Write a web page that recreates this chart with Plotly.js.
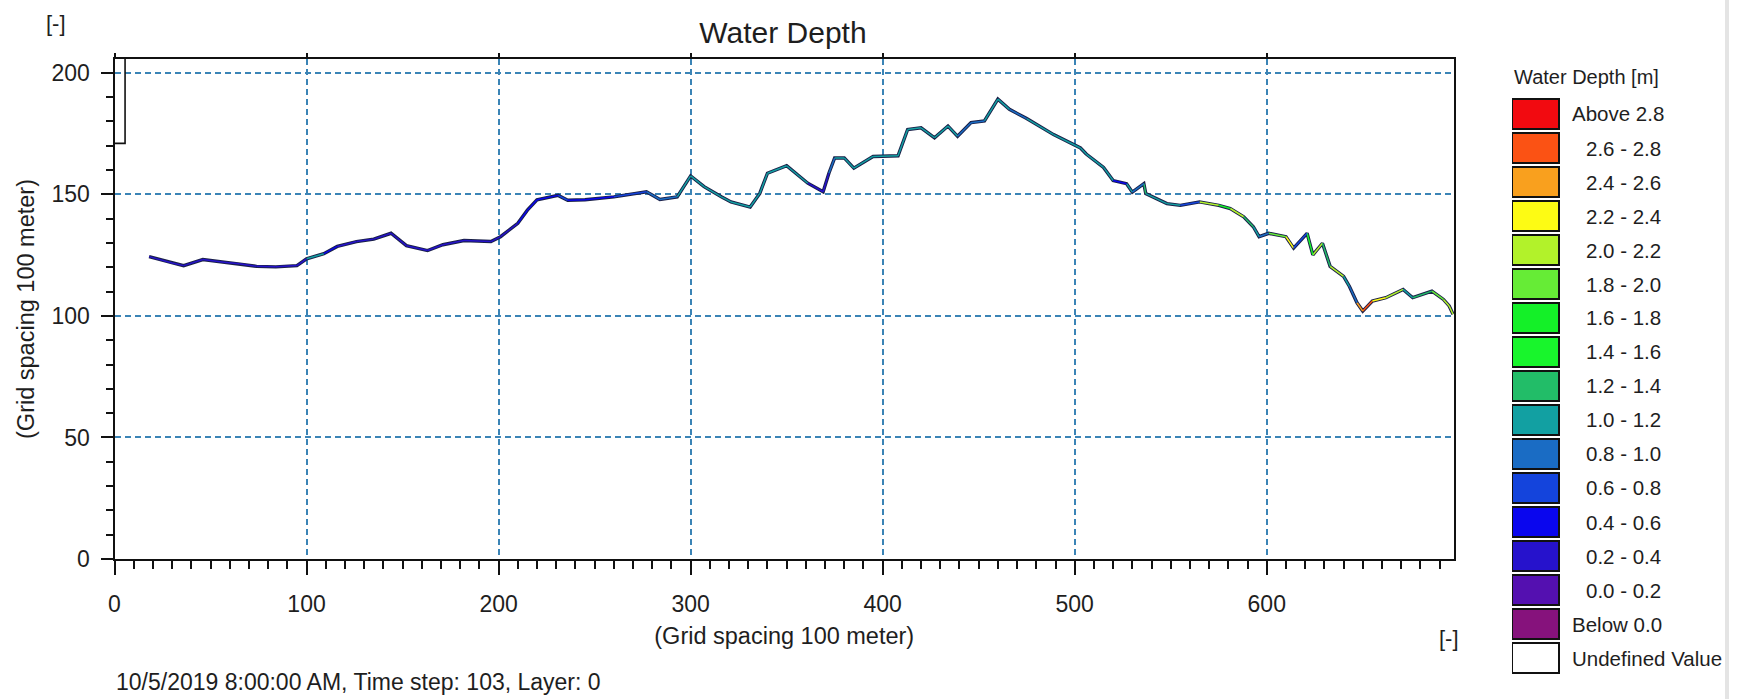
<!DOCTYPE html>
<html>
<head>
<meta charset="utf-8">
<script src="https://cdn.plot.ly/plotly-3.0.1.min.js"></script>
<style>html,body{margin:0;padding:0;background:#fff;}#chart{width:1740px;height:699px;}</style>
</head>
<body>
<div id="chart"></div>
<script>
// ---- data ----
var profileX = [18, 30, 36, 46, 57, 65, 74, 84, 95, 100, 109, 116, 126, 135, 144, 152, 163, 171, 182, 196, 201, 210, 215, 220, 231, 236, 245, 260, 277, 284, 293, 300, 307, 316, 321, 331, 336, 340, 350, 361, 369, 372, 375, 380, 385, 395, 408, 413, 420, 427, 434, 439, 446, 453, 460, 466, 475, 489, 503, 506, 515, 520, 527, 530, 536, 537, 548, 555, 565, 575, 581, 588, 593, 596, 601, 610, 614, 621, 624, 629, 633, 640, 643, 647, 650, 655, 662, 671, 676, 686, 692, 695, 697];
var profileY = [124.4, 121.8, 120.7, 123.2, 122.1, 121.5, 120.4, 120.2, 120.7, 123.5, 125.6, 128.6, 130.6, 131.6, 134.0, 128.9, 126.9, 129.3, 131.0, 130.6, 132.6, 138.1, 143.5, 147.8, 149.6, 147.6, 147.8, 149.0, 151.1, 147.9, 149.0, 157.6, 153.2, 149.0, 146.9, 144.8, 150.4, 158.7, 161.8, 154.6, 151.1, 158.7, 165.0, 165.0, 160.8, 165.6, 165.9, 176.7, 177.4, 173.3, 178.1, 173.9, 179.5, 180.2, 189.2, 185.0, 181.2, 174.6, 169.1, 166.6, 161.1, 155.7, 154.4, 150.9, 154.4, 150.3, 146.2, 145.5, 146.9, 145.5, 144.2, 140.8, 136.7, 132.6, 134.0, 132.6, 127.9, 134.0, 125.1, 129.9, 120.4, 116.3, 112.2, 105.4, 102.0, 106.1, 107.5, 110.9, 107.5, 110.2, 106.8, 104.1, 100.7];
var profileDepth = [0.3, 0.3, 0.3, 0.3, 0.3, 0.3, 0.3, 0.3, 0.3, 1.0, 0.5, 0.3, 0.3, 0.3, 0.3, 0.3, 0.3, 0.3, 0.3, 0.3, 0.3, 0.5, 0.5, 0.5, 0.7, 0.5, 0.5, 0.7, 0.9, 0.9, 1.1, 1.1, 1.1, 1.1, 1.1, 1.1, 1.1, 1.1, 1.1, 0.3, 0.3, 0.9, 1.1, 1.1, 1.1, 1.1, 1.1, 1.1, 1.1, 1.1, 1.1, 0.9, 0.9, 1.1, 1.1, 0.9, 1.1, 1.1, 1.1, 1.1, 1.1, 0.5, 1.1, 0.9, 1.3, 1.0, 1.1, 0.7, 2.1, 1.7, 2.1, 1.3, 1.1, 0.9, 1.9, 2.3, 0.7, 1.5, 2.1, 1.3, 2.1, 1.1, 0.9, 2.5, 2.7, 2.3, 2.1, 1.1, 1.3, 1.9, 2.1, 2.1, 0.3];

var boxX = [0, 5.5, 5.5];
var boxY = [171, 171, 205.7];

var legendLabels = ["Above 2.8", "2.6 - 2.8", "2.4 - 2.6", "2.2 - 2.4", "2.0 - 2.2", "1.8 - 2.0", "1.6 - 1.8", "1.4 - 1.6", "1.2 - 1.4", "1.0 - 1.2", "0.8 - 1.0", "0.6 - 0.8", "0.4 - 0.6", "0.2 - 0.4", "0.0 - 0.2", "Below 0.0", "Undefined Value"];
var legendColors = ["#f20a10", "#fb5214", "#f9a01e", "#fdfb14", "#b2f22a", "#66ec36", "#14f028", "#18f52c", "#22bd68", "#12a0a2", "#1a6cc4", "#1444dc", "#0a06ee", "#2612cc", "#5410b0", "#86127c", "#ffffff"];
var binLower = [2.8, 2.6, 2.4, 2.2, 2.0, 1.8, 1.6, 1.4, 1.2, 1.0, 0.8, 0.6, 0.4, 0.2, 0.0, -Infinity];

var xTickVals = [0, 100, 200, 300, 400, 500, 600];
var yTickVals = [0, 50, 100, 150, 200];

// ---- helpers ----
function depthBin(d) {
  for (var i = 0; i < binLower.length; i++) if (d >= binLower[i]) return i;
  return legendColors.length - 1;
}
var FONT = "'Liberation Sans', Arial, sans-serif";
var TXT = "#1e1e1e";

// layout geometry (px)
var W = 1740, H = 699, M = 5;
var PW = W - 2 * M, PH = H - 2 * M;
function fx(px) { return (px - M) / PW; }
function fy(py) { return (H - M - py) / PH; }

var plotL = 114.5, plotR = 1454, plotT = 59, plotB = 559;
var legL = 1512, legR = 1735, legBoxW = 47, legTop0 = 114, legPitch = 34;

var idx = legendLabels.map(function (_, i) { return i; });

// dark outline of the wet cells
var traces = [
  {
    x: profileX, y: profileY, type: 'scatter', mode: 'lines',
    line: { color: '#1a2048', width: 3.4 }, hoverinfo: 'skip', showlegend: false
  }
];
// coloured interior: one trace per depth class, segments separated by gaps
var segByBin = {};
for (var i = 0; i < profileX.length - 1; i++) {
  var b = depthBin(profileDepth[i]);
  if (!segByBin[b]) segByBin[b] = { x: [], y: [] };
  segByBin[b].x.push(profileX[i], profileX[i + 1], null);
  segByBin[b].y.push(profileY[i], profileY[i + 1], null);
}
Object.keys(segByBin).forEach(function (b) {
  traces.push({
    x: segByBin[b].x, y: segByBin[b].y, type: 'scatter', mode: 'lines', connectgaps: false,
    line: { color: legendColors[b], width: 1.5 }, name: legendLabels[b],
    hoverinfo: 'name', showlegend: false
  });
});
traces.push(
  {
    x: boxX, y: boxY, type: 'scatter', mode: 'lines',
    line: { color: '#111', width: 1.6 }, hoverinfo: 'skip', showlegend: false
  },
  {
    x: [0, 697.5], y: [0, 0], xaxis: 'x3', yaxis: 'y', type: 'scatter', mode: 'markers',
    marker: { opacity: 0 }, hoverinfo: 'skip', showlegend: false
  },
  {
    type: 'bar', orientation: 'h', xaxis: 'x2', yaxis: 'y2',
    y: idx, x: idx.map(function () { return 1; }), base: 0, width: 0.88,
    marker: { color: legendColors, line: { color: '#111', width: 2 } },
    text: legendLabels, textposition: 'none', hoverinfo: 'text', showlegend: false
  }
);

var annotations = [
  { text: 'Water Depth [m]', xref: 'x2', yref: 'y2', x: 0, y: -1.09, xanchor: 'left', yanchor: 'middle', showarrow: false, font: { family: FONT, size: 20, color: TXT } },
  { text: '[-]', xref: 'paper', yref: 'paper', x: fx(56), y: fy(23), xanchor: 'center', yanchor: 'middle', showarrow: false, font: { family: FONT, size: 22, color: TXT } },
  { text: '[-]', xref: 'paper', yref: 'paper', x: fx(1449), y: fy(638), xanchor: 'center', yanchor: 'middle', showarrow: false, font: { family: FONT, size: 22, color: TXT } },
  { text: '10/5/2019 8:00:00 AM, Time step: 103, Layer: 0', xref: 'paper', yref: 'paper', x: fx(114), y: fy(682), xanchor: 'left', yanchor: 'middle', showarrow: false, font: { family: FONT, size: 23, color: TXT } }
];
legendLabels.forEach(function (lab, i) {
  var isRange = /^\d/.test(lab);
  annotations.push({
    text: lab, xref: 'x2', yref: 'y2',
    x: isRange ? (1663 - legL) / legBoxW : (1570 - legL) / legBoxW,
    y: i, xanchor: isRange ? 'right' : 'left', yanchor: 'middle', showarrow: false,
    font: { family: FONT, size: 20.5, color: TXT }
  });
});

var gridStyle = { gridcolor: '#3b84b6', griddash: '6px,4px', gridwidth: 1.5 };

var layout = {
  width: W, height: H,
  margin: { l: M, r: M, t: M, b: M, autoexpand: false },
  paper_bgcolor: '#ffffff', plot_bgcolor: '#ffffff',
  font: { family: FONT, color: TXT },
  showlegend: false,
  title: { text: 'Water Depth', xref: 'container', yref: 'container', x: 783 / W, y: 1 - 32 / H, xanchor: 'center', yanchor: 'middle', font: { family: FONT, size: 30, color: TXT } },
  xaxis: Object.assign({
    domain: [fx(plotL), fx(plotR)], range: [0, 697.5], tickvals: xTickVals,
    ticks: 'outside', ticklen: 14, tickwidth: 2, tickcolor: '#111',
    showline: true, linecolor: '#111', linewidth: 2, mirror: true, zeroline: false,
    tickfont: { family: FONT, size: 23, color: TXT }, ticklabelstandoff: 9,
    minor: { dtick: 10, tick0: 0, ticks: 'outside', ticklen: 8, tickwidth: 1.5, tickcolor: '#111', showgrid: false },
    title: { text: '(Grid spacing 100 meter)', font: { family: FONT, size: 23.5, color: TXT }, standoff: 12 },
    fixedrange: true, anchor: 'y'
  }, gridStyle),
  xaxis3: {
    overlaying: 'x', side: 'top', anchor: 'y', range: [0, 697.5], tickvals: xTickVals,
    ticks: 'outside', ticklen: 5, tickwidth: 1.5, tickcolor: '#111', showticklabels: false,
    showgrid: false, showline: false, zeroline: false, fixedrange: true
  },
  yaxis: Object.assign({
    domain: [fy(plotB), fy(plotT)], range: [0, 205.7], tickvals: yTickVals,
    ticks: 'outside', ticklen: 12, tickwidth: 2, tickcolor: '#111',
    showline: true, linecolor: '#111', linewidth: 2, mirror: true, zeroline: false,
    tickfont: { family: FONT, size: 23, color: TXT }, ticklabelstandoff: 6,
    minor: { dtick: 10, tick0: 0, ticks: 'outside', ticklen: 7, tickwidth: 1.5, tickcolor: '#111', showgrid: false },
    title: { text: '(Grid spacing 100 meter)', font: { family: FONT, size: 23.5, color: TXT }, standoff: 10 },
    fixedrange: true, anchor: 'x'
  }, gridStyle),
  xaxis2: {
    domain: [fx(legL), fx(legR)], range: [0, (legR - legL) / legBoxW], anchor: 'y2',
    visible: false, fixedrange: true
  },
  yaxis2: {
    domain: [fy(legTop0 + legPitch * 16.6), fy(legTop0 - legPitch * 1.6)], range: [16.6, -1.6], anchor: 'x2',
    visible: false, fixedrange: true
  },
  annotations: annotations,
  shapes: [
    { type: 'line', xref: 'paper', yref: 'paper', x0: fx(1727), x1: fx(1727), y0: -0.01, y1: 1.01, line: { color: '#e4e4e4', width: 4 } }
  ]
};

Plotly.newPlot('chart', traces, layout, { displayModeBar: false, staticPlot: false });
</script>
</body>
</html>
